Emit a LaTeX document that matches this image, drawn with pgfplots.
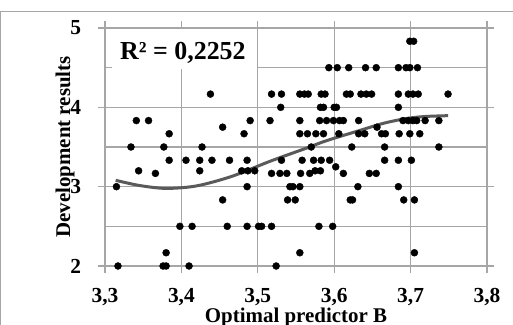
\documentclass[border=0pt]{standalone}
\usepackage{fontspec}
\setmainfont{Liberation Serif}
\usepackage{pgfplots}
\pgfplotsset{compat=1.18}
\definecolor{gridc}{HTML}{A6A6A6}
\definecolor{trend}{HTML}{5A5A5A}
\pgfplotstableread{
x y
3.699 4.833
3.704 4.833
3.593 4.5
3.604 4.5
3.619 4.5
3.641 4.5
3.655 4.5
3.684 4.5
3.694 4.5
3.699 4.5
3.709 4.5
3.438 4.167
3.518 4.167
3.531 4.167
3.555 4.167
3.561 4.167
3.566 4.167
3.583 4.167
3.588 4.167
3.616 4.167
3.621 4.167
3.635 4.167
3.642 4.167
3.649 4.167
3.684 4.167
3.697 4.167
3.703 4.167
3.710 4.167
3.749 4.167
3.530 4.0
3.582 4.0
3.586 4.0
3.600 4.0
3.603 4.0
3.684 4.0
3.341 3.833
3.357 3.833
3.490 3.833
3.516 3.833
3.555 3.833
3.581 3.833
3.590 3.833
3.599 3.833
3.607 3.833
3.612 3.833
3.632 3.833
3.690 3.833
3.697 3.833
3.703 3.833
3.708 3.833
3.719 3.833
3.737 3.833
3.454 3.75
3.656 3.75
3.384 3.667
3.482 3.667
3.555 3.667
3.565 3.667
3.576 3.667
3.586 3.667
3.606 3.667
3.632 3.667
3.640 3.667
3.662 3.667
3.667 3.667
3.685 3.667
3.699 3.667
3.712 3.667
3.334 3.5
3.377 3.5
3.427 3.5
3.570 3.5
3.623 3.5
3.666 3.5
3.737 3.5
3.384 3.333
3.406 3.333
3.424 3.333
3.440 3.333
3.463 3.333
3.486 3.333
3.531 3.333
3.558 3.333
3.573 3.333
3.583 3.333
3.594 3.333
3.666 3.333
3.684 3.333
3.701 3.333
3.602 3.25
3.344 3.2
3.366 3.167
3.424 3.2
3.479 3.2
3.487 3.2
3.496 3.2
3.518 3.167
3.529 3.167
3.538 3.167
3.556 3.167
3.568 3.167
3.575 3.2
3.582 3.2
3.612 3.167
3.646 3.167
3.655 3.167
3.315 3.0
3.486 3.0
3.542 3.0
3.546 3.0
3.555 3.0
3.631 3.0
3.684 3.0
3.454 2.833
3.539 2.833
3.549 2.833
3.621 2.833
3.624 2.833
3.691 2.833
3.705 2.833
3.398 2.5
3.414 2.5
3.460 2.5
3.486 2.5
3.501 2.5
3.505 2.5
3.518 2.5
3.580 2.5
3.598 2.5
3.380 2.167
3.555 2.167
3.705 2.167
3.317 2.0
3.376 2.0
3.380 2.0
3.410 2.0
3.524 2.0
}\pts
\begin{document}
\begin{tikzpicture}
\begin{axis}[
 at={(105bp,59bp)}, anchor=south west,
 scale only axis, width=382bp, height=238bp,
 xmin=3.3, xmax=3.8, ymin=2, ymax=5,
 xtick={3.3,3.4,3.5,3.6,3.7,3.8},
 xticklabels={{3,3},{3,4},{3,5},{3,6},{3,7},{3,8}},
 ytick={2,3,4,5}, yticklabels={2,3,4,5},
 minor ytick={2.5,3.5,4.5},
 xmajorgrids, ymajorgrids, yminorgrids,
 grid style={draw=gridc, line width=1.3bp},
 minor grid style={draw=gridc, line width=1.3bp},
 axis line style={draw=gridc, line width=1.3bp},
 tick align=outside, major tick length=7bp, minor tick length=0pt,
 tick style={draw=gridc, line width=1.3bp},
 ticklabel style={font=\fontsize{21.5}{22}\selectfont\bfseries},
 xticklabel style={inner sep=1.5bp, yshift=-14bp},
 yticklabel style={xshift=-13.5bp},
 xlabel={Optimal predictor B}, ylabel={Development results},
 label style={font=\fontsize{21}{22}\selectfont\bfseries},
 xlabel style={at={(axis description cs:0.5,-0.2353)}, anchor=base, inner sep=1bp},
 ylabel style={at={(axis description cs:-0.0916,0.5)}, anchor=base},
 clip=false,
]
\addplot[only marks, mark=*, mark size=3.5bp, black] table[x=x,y=y] {\pts};
\addplot[smooth, line width=3bp, trend] coordinates {
(3.314,3.08) (3.345,3.015) (3.38,2.978) (3.42,3.01) (3.466,3.13) (3.516,3.32)
(3.562,3.48) (3.59,3.58) (3.634,3.71) (3.665,3.80) (3.695,3.86) (3.72,3.885) (3.749,3.895)};
\end{axis}
\fill[white] (111.5bp,255.5bp) rectangle (256.5bp,296.3bp);
\node[anchor=base west, inner sep=0pt, font=\fontsize{26}{26}\selectfont\bfseries] at (120bp,265.7bp) {R² = 0,2252};
\draw[gridc, line width=1bp] (0.5bp,0) -- (0.5bp,313.3bp) -- (513bp,313.3bp);
\pgfresetboundingbox
\path[use as bounding box] (0,0) rectangle (513bp,325bp);
\end{tikzpicture}
\end{document}
